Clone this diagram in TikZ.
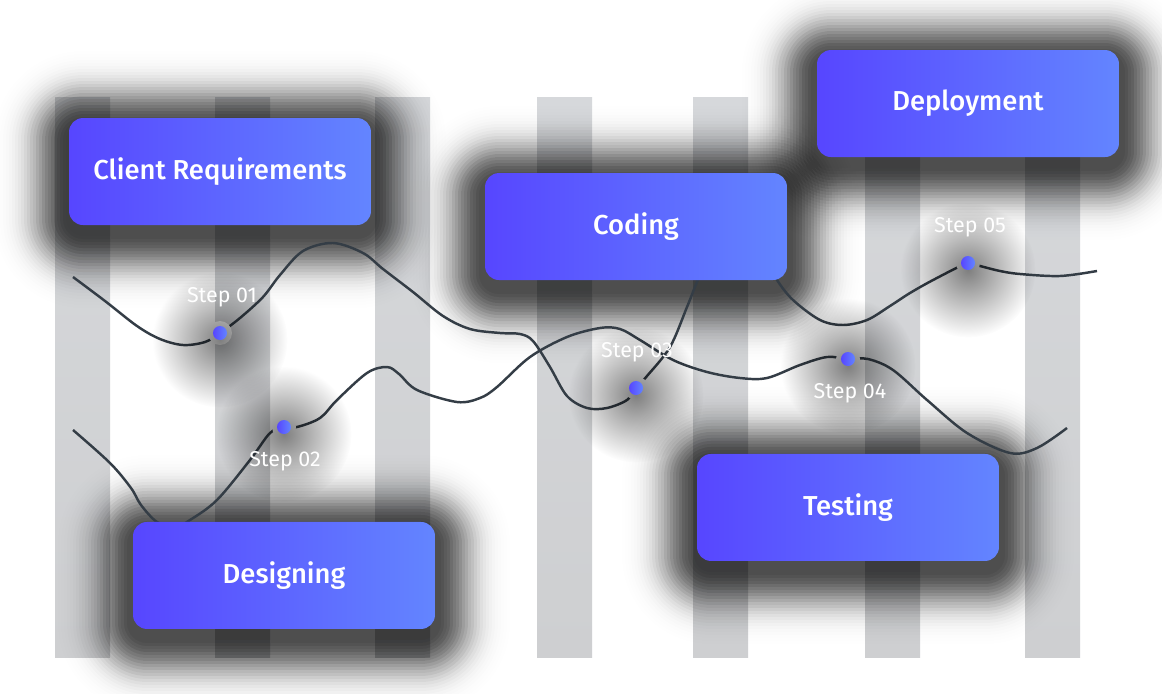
\documentclass[tikz,border=0pt]{standalone}
\usepackage{fontspec}
\setmainfont{Fira Sans}
\newfontfamily\boxfont{Fira Sans Medium}
\usetikzlibrary{positioning, calc, fadings}
\definecolor{boxleft}{RGB}{87,70,255}
\definecolor{boxright}{RGB}{99,133,255}
\definecolor{bartop}{RGB}{214,216,219}
\definecolor{barbottom}{RGB}{206,207,209}
\definecolor{wire}{RGB}{52,61,70}
\pgfdeclarelayer{bars}
\pgfdeclarelayer{shade}
\pgfdeclarelayer{front}
\pgfsetlayers{bars,shade,main,front}
\tikzfading[name=glow, inner color=transparent!0, outer color=transparent!100]
\tikzset{
  phase/.style={rounded corners=0.28cm, minimum width=6.04cm, minimum height=2.14cm, outer sep=0pt,
    left color=boxleft, right color=boxright, text=white, font=\boxfont\fontsize{15.6}{18}\selectfont},
  steptext/.style={text=white, inner sep=0pt, font=\fontsize{12.2}{14}\selectfont},
  wave/.style={draw=wire, line width=1.4pt},
}
% soft shadow behind a phase box (gaussian-like, built from thin layers)
\newcommand{\boxshade}[1]{%
  \foreach \d in {3,6,...,84}{%
    \pgfmathsetmacro\oa{0.66*exp(-1*(\d-3)*(\d-3)/1200)}
    \pgfmathsetmacro\ob{0.66*exp(-1*\d*\d/1200)}
    \pgfmathsetmacro\al{(\oa-\ob)/(1-\ob)}
    \fill[black, opacity=\al, rounded corners=0.28cm+\d*0.02cm]
      ($(#1.north west)+(-\d,-\d+8)$) rectangle ($(#1.south east)+(\d,\d+8)$);
  }}
% dot on a wave
\newcommand{\stepdot}[1]{%
  \fill[white] (#1) circle (0.24cm);
  \fill[black, opacity=.5, path fading=glow] ($(#1)+(0,7)$) circle (1.35cm);
  \shade[left color=boxleft, right color=boxright] (#1) circle (0.14cm);
}
\begin{document}
\begin{tikzpicture}[x=0.02cm, y=-0.02cm]
    \useasboundingbox (0,0) rectangle (1162,693);

    % step positions
    \coordinate (s1) at (220,333);
    \coordinate (s2) at (284,427);
    \coordinate (s3) at (636,388);
    \coordinate (s4) at (848,359);
    \coordinate (s5) at (968,263);

    % phase boxes
    \begin{pgfonlayer}{front}
        \node[phase, above=2.16cm of s1] (req) {Client Requirements};
        \node[phase, below=1.9cm of s2] (design) {Designing};
        \node[phase, above=2.16cm of s3] (code) {Coding};
        \node[phase, below=1.9cm of s4] (test) {Testing};
        \node[phase, above=2.12cm of s5] (deploy) {Deployment};
    \end{pgfonlayer}

    % grey bars
    \begin{pgfonlayer}{bars}
        \fill[white] (0,0) rectangle (1162,693);
        \foreach \bx in {55,215,375,537,693,865,1025}
            \shade[top color=bartop, bottom color=barbottom] (\bx,97) rectangle ++(55,560);
    \end{pgfonlayer}

    % box shadows
    \begin{pgfonlayer}{shade}
        \foreach \b in {req,design,code,test,deploy}
            \boxshade{\b};
    \end{pgfonlayer}

    % upper wave
    \draw[wave] plot[smooth, tension=.55] coordinates {
        (73,277) (105,301) (137,326) (160,339) (183,345) (205,342) (s1) (240,318)
        (263,297) (280,275) (303,251) (333,243) (363,253) (383,269) (413,292)
        (443,316) (470,329) (500,333) (520,334) (533,341) (550,367) (567,396)
        (587,408) (607,408) (627,400) (s3) (647,376) (670,347) (687,307) (697,282)
        (712,248) (740,238) (765,258) (777,280) (793,300) (820,320) (843,325)
        (867,320) (890,306) (910,293) (935,279) (s5) (980,266) (1000,271)
        (1020,274) (1060,276) (1097,271)};

    % lower wave
    \draw[wave] plot[smooth, tension=.55] coordinates {
        (73,430) (110,463) (131,488) (141,505) (157,522) (175,527) (190,520)
        (217,500) (250,460) (270,433) (s2) (297,427) (320,418) (337,400) (367,373)
        (387,367) (399,374) (417,390) (457,402) (480,398) (497,387) (530,357)
        (567,337) (600,328) (620,329) (640,340) (673,360) (707,372) (740,378)
        (767,378) (800,365) (827,357) (s4) (868,359) (893,370) (927,400)
        (967,433) (1010,453) (1037,448) (1067,428)};

    % dots
    \stepdot{s1}
    \stepdot{s2}
    \stepdot{s3}
    \stepdot{s4}
    \stepdot{s5}

    % step labels
    \node[steptext] (l1) at ($(s1)+(2,-36)$) {Step 01};
    \node[steptext] (l2) at ($(s2)+(1,34)$) {Step 02};
    \node[steptext] (l3) at ($(s3)+(1,-36)$) {Step 03};
    \node[steptext] (l4) at ($(s4)+(2,34)$) {Step 04};
    \node[steptext] (l5) at ($(s5)+(2,-36)$) {Step 05};
\end{tikzpicture}
\end{document}
